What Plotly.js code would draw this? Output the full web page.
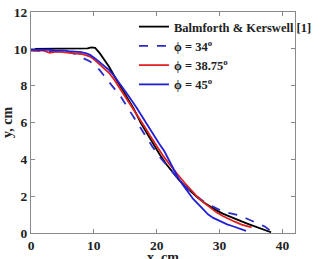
<!DOCTYPE html>
<html>
<head>
<meta charset="utf-8">
<script src="https://cdn.plot.ly/plotly-3.0.1.min.js"></script>
<style>
  html, body { margin: 0; padding: 0; background: #fff; }
  #chart { width: 322px; height: 259px; }
</style>
</head>
<body>
<div id="chart"></div>
<script>
// Slump profiles: free-surface height y against distance x (both in cm)
const seriesNames = [
  'Balmforth &amp; Kerswell [1]',
  '\u03d5 = 34<sup>o</sup>',
  '\u03d5 = 38.75<sup>o</sup>',
  '\u03d5 = 45<sup>o</sup>'
];

const bkX = [0, 5, 9, 9.6, 10.2, 10.9, 11.6, 12.4, 13.3, 14.3, 15.3, 16.3, 17.5, 18.5, 19.5, 20.5, 21.5, 22.5, 23.5, 24.5, 25.5, 26.5, 27.5, 28.5, 29.5, 30.5, 31.5, 32.5, 33.5, 34.5, 35.5, 36.5, 37.5, 38.2];
const bkY = [10, 10, 10.02, 10.08, 10.05, 9.78, 9.42, 9.04, 8.5, 7.95, 7.35, 6.78, 5.96, 5.38, 4.8, 4.25, 3.75, 3.3, 2.9, 2.55, 2.22, 1.92, 1.66, 1.43, 1.23, 1.05, 0.9, 0.76, 0.63, 0.5, 0.37, 0.24, 0.12, 0.04];

const phi34X = [0, 1, 2, 3, 4, 5, 6, 7, 8, 8.8, 9.4, 10.2, 10.9, 11.6, 12.4, 13.3, 14.3, 15.3, 16.3, 17.3, 18.3, 19.3, 20.3, 21.3, 22.3, 23.3, 24.3, 25.3, 26.3, 27.3, 28.3, 29.3, 30.3, 31.3, 32.3, 33.2, 34.2, 35.2, 36.2, 37.2, 38.1];
const phi34Y = [9.92, 9.9, 9.9, 9.88, 9.88, 9.85, 9.82, 9.72, 9.55, 9.42, 9.31, 9.1, 8.86, 8.55, 8.22, 7.85, 7.4, 6.85, 6.3, 5.75, 5.2, 4.7, 4.2, 3.8, 3.35, 2.95, 2.6, 2.3, 2.0, 1.75, 1.55, 1.37, 1.2, 1.1, 1.02, 0.95, 0.8, 0.65, 0.5, 0.35, 0.12];

const phi3875X = [0, 1, 2, 3, 4, 5, 6, 7, 8, 8.8, 9.4, 10.2, 11, 11.7, 12.4, 13.3, 14.3, 15.5, 16.8, 17.7, 18.2, 19, 20, 21, 22, 23, 23.4, 24.5, 25.5, 26.5, 27.5, 28.5, 29.5, 30.5, 31.5, 32.5, 33.5, 34.3, 35.1];
const phi3875Y = [9.9, 9.88, 9.9, 9.78, 9.85, 9.82, 9.8, 9.78, 9.72, 9.65, 9.58, 9.38, 9.12, 8.92, 8.7, 8.3, 7.77, 7.15, 6.5, 6.0, 5.7, 5.25, 4.7, 4.2, 3.75, 3.3, 3.15, 2.7, 2.3, 1.95, 1.65, 1.38, 1.12, 0.92, 0.74, 0.6, 0.46, 0.38, 0.3];

const phi45X = [0, 1, 2, 3, 4, 5, 6, 7, 8, 8.8, 9.4, 10.2, 11, 11.7, 12.4, 13.3, 14.3, 15.5, 16.8, 17.7, 18.7, 19.7, 20.4, 21.2, 21.9, 22.7, 23.4, 24.2, 25, 25.8, 26.8, 27.6, 28.2, 29, 29.7, 30.5, 31.2, 32, 32.8, 33.5, 34.2];
const phi45Y = [9.95, 9.96, 9.93, 9.95, 9.9, 9.92, 9.88, 9.85, 9.82, 9.75, 9.67, 9.48, 9.25, 9.05, 8.86, 8.5, 8.04, 7.45, 6.8, 6.3, 5.76, 5.25, 4.85, 4.45, 4.0, 3.45, 3.0, 2.6, 2.2, 1.85, 1.5, 1.2, 1.0, 0.82, 0.7, 0.58, 0.47, 0.38, 0.28, 0.2, 0.12];

const xTicks = [0, 10, 20, 30, 40];
const yTicks = [0, 2, 4, 6, 8, 10, 12];

const serif = 'Liberation Serif, Times New Roman, serif';
const titleFont = { family: serif, size: 14, color: '#222', weight: 'bold' };

const traces = [
  { x: bkX, y: bkY, name: seriesNames[0], mode: 'lines',
    line: { color: '#000000', width: 1.8 } },
  { x: phi34X, y: phi34Y, name: seriesNames[1], mode: 'lines',
    line: { color: '#2a2ac8', width: 1.8, dash: 'dash' } },
  { x: phi3875X, y: phi3875Y, name: seriesNames[2], mode: 'lines',
    line: { color: '#e02020', width: 1.8 } },
  { x: phi45X, y: phi45Y, name: seriesNames[3], mode: 'lines',
    line: { color: '#2020d8', width: 1.8 } }
];

const axisCommon = {
  showgrid: false,
  zeroline: false,
  showline: true,
  linecolor: '#8a8a8a',
  linewidth: 1,
  mirror: 'ticks',
  ticks: 'inside',
  ticklen: 4,
  tickcolor: '#8a8a8a',
  automargin: false,
  tickfont: { family: serif, size: 13.5, color: '#222', weight: 'bold' }
};

const layout = {
  width: 322,
  height: 259,
  margin: { l: 31, r: 5, t: 12, b: 26 },
  paper_bgcolor: '#ffffff',
  plot_bgcolor: '#ffffff',
  showlegend: true,
  legend: {
    x: 0.39, y: 1.0, xanchor: 'left', yanchor: 'top',
    bgcolor: 'rgba(255,255,255,0)',
    borderwidth: 0,
    tracegroupgap: 0,
    itemwidth: 30,
    font: { family: serif, size: 12.5, color: '#222', weight: 'bold' }
  },
  xaxis: Object.assign({}, axisCommon, {
    range: [0, 42],
    tickvals: xTicks,
    ticktext: xTicks.map(String)
  }),
  yaxis: Object.assign({}, axisCommon, {
    range: [0, 12],
    tickvals: yTicks,
    ticktext: yTicks.map(String),
    title: { text: 'y, cm', standoff: 2, font: titleFont }
  }),
  // x-axis caption sits low under the tick labels, running off the bottom edge
  annotations: [{
    text: 'x, cm', xref: 'paper', yref: 'paper',
    x: 0.5, y: -0.066, xanchor: 'center', yanchor: 'top',
    showarrow: false, font: titleFont
  }]
};

Plotly.newPlot('chart', traces, layout, { displayModeBar: false, staticPlot: true });
</script>
</body>
</html>
